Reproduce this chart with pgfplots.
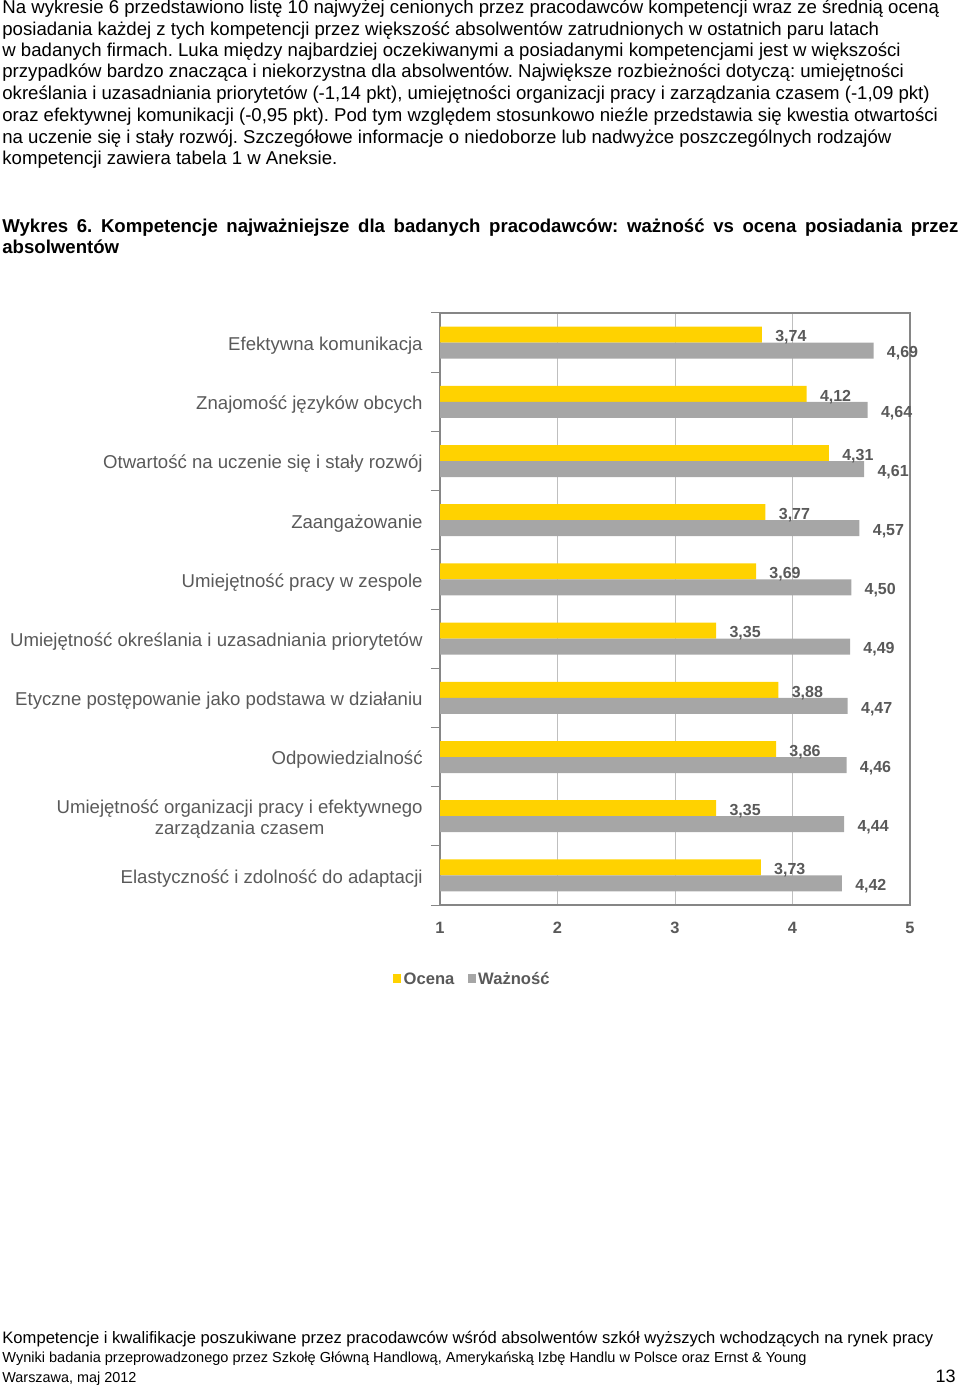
\documentclass[border=0pt]{standalone}
\usepackage{fontspec}
\setmainfont{Liberation Sans}
\usepackage{pgfplots}
\pgfplotsset{compat=1.18}
\definecolor{ocena}{HTML}{FFD200}
\definecolor{waz}{HTML}{A6A6A6}
\definecolor{lblgray}{HTML}{595959}
\definecolor{axgray}{HTML}{868686}
\definecolor{gridgray}{HTML}{BFBFBF}
\frenchspacing
\begin{document}
\frenchspacing
\begin{tikzpicture}[x=0.5pt,y=-0.5pt]
\useasboundingbox (0,0) rectangle (960,1386);
\tikzset{body/.style={anchor=base west, inner sep=0pt, font=\frenchspacing\fontsize{9.3}{10.7}\selectfont}}
\node[body] at (2,14) {Na wykresie 6 przedstawiono listę 10 najwyżej cenionych przez pracodawców kompetencji wraz ze średnią oceną};
\node[body] at (2,36) {posiadania każdej z tych kompetencji przez większość absolwentów zatrudnionych w ostatnich paru latach};
\node[body] at (2,57) {w badanych firmach. Luka między najbardziej oczekiwanymi a posiadanymi kompetencjami jest w większości};
\node[body] at (2,78) {przypadków bardzo znacząca i niekorzystna dla absolwentów. Największe rozbieżności dotyczą: umiejętności};
\node[body] at (2,100) {określania i uzasadniania priorytetów (-1,14 pkt), umiejętności organizacji pracy i zarządzania czasem (-1,09 pkt)};
\node[body] at (2,121) {oraz efektywnej komunikacji (-0,95 pkt). Pod tym względem stosunkowo nieźle przedstawia się kwestia otwartości};
\node[body] at (2,143) {na uczenie się i stały rozwój. Szczegółowe informacje o niedoborze lub nadwyżce poszczególnych rodzajów};
\node[body] at (2,164) {kompetencji zawiera tabela 1 w Aneksie.};
\node[body, font=\frenchspacing\bfseries\fontsize{9.3}{10.7}\selectfont] at (2,232) {\makebox[478pt][s]{Wykres 6. Kompetencje najważniejsze dla badanych pracodawców: ważność vs ocena posiadania przez}};
\node[body, font=\bfseries\fontsize{9.3}{10.7}\selectfont] at (2,253) {absolwentów};

\begin{axis}[
 at={(220pt,-452.5pt)}, anchor=south west,
 scale only axis, width=235pt, height=296pt,
 xbar, bar width=8pt,
 xmin=1, xmax=5, ymin=-0.5, ymax=9.5, y dir=reverse,
 xtick={1,2,3,4,5}, ytick={0,...,9},
 yticklabels={Efektywna komunikacja, Znajomość języków obcych, Otwartość na uczenie się i stały rozwój, Zaangażowanie, Umiejętność pracy w zespole, Umiejętność określania i uzasadniania priorytetów, Etyczne postępowanie jako podstawa w działaniu, Odpowiedzialność, {Umiejętność organizacji pracy i efektywnego\\zarządzania czasem}, Elastyczność i zdolność do adaptacji},
 major tick length=0pt,
 minor ytick={-0.5,0.5,...,9.5}, minor tick length=4.5pt, tick align=outside, tick pos=left,
 xmajorgrids, major grid style={draw=gridgray, line width=0.5pt},
 axis line style={draw=axgray, line width=1pt},
 every tick/.style={draw=axgray, line width=0.5pt},
 yticklabel style={font=\fontsize{9.3}{10.5}\selectfont, text=lblgray, align=center, inner sep=0pt, xshift=-8.5pt, yshift=-1.5pt},
 xticklabel style={font=\bfseries\fontsize{8.2}{9}\selectfont, text=lblgray, inner sep=0pt, yshift=-8.5pt},
 /pgf/number format/assume math mode=true,
 nodes near coords={\pgfmathprintnumber[fixed,fixed zerofill,precision=2,use comma]{\pgfplotspointmeta}},
 nodes near coords style={font=\bfseries\fontsize{8}{9}\selectfont, text=lblgray, anchor=west, inner sep=0pt, xshift=6.5pt, yshift=-1.5pt},
 legend style={at={(-0.113,-0.127)}, anchor=west, draw=none, fill=none, legend columns=2, font=\bfseries\fontsize{8.3}{9}\selectfont, text=lblgray, /tikz/every even column/.append style={column sep=5.5pt}, nodes={inner sep=1.2pt}},
 legend image code/.code={\fill[#1] (0pt,-1.6pt) rectangle (4pt,2.9pt);},
]
\addplot[fill=ocena, draw=none, bar shift=4pt] coordinates {(3.74,0) (4.12,1) (4.31,2) (3.77,3) (3.69,4) (3.35,5) (3.88,6) (3.86,7) (3.35,8) (3.73,9)};
\addplot[fill=waz, draw=none, bar shift=-4pt] coordinates {(4.69,0) (4.64,1) (4.61,2) (4.57,3) (4.50,4) (4.49,5) (4.47,6) (4.46,7) (4.44,8) (4.42,9)};
\legend{Ocena, Ważność}
\end{axis}

\node[body, font=\fontsize{8.3}{10}\selectfont] at (2,1343) {Kompetencje i kwalifikacje poszukiwane przez pracodawców wśród absolwentów szkół wyższych wchodzących na rynek pracy};
\node[body, font=\fontsize{7.27}{8}\selectfont] at (2,1362) {Wyniki badania przeprowadzonego przez Szkołę Główną Handlową, Amerykańską Izbę Handlu w Polsce oraz Ernst \& Young};
\node[body, font=\fontsize{7.2}{8}\selectfont] at (2,1382) {Warszawa, maj 2012};
\node[anchor=base east, inner sep=0pt, font=\fontsize{9}{10}\selectfont] at (956,1382) {13};
\end{tikzpicture}
\end{document}
